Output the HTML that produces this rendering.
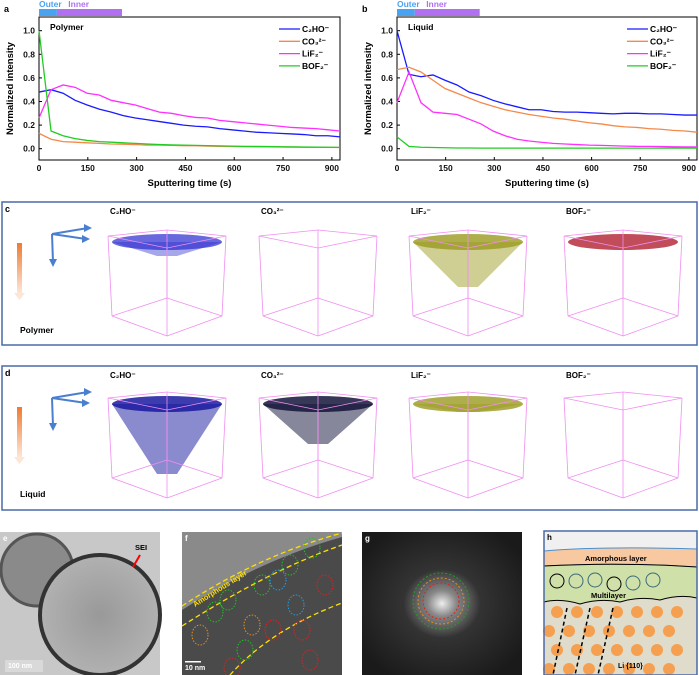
<!DOCTYPE html>
<html><head><meta charset="utf-8"><style>
body{margin:0;background:#fff}
svg{display:block;font-family:"Liberation Sans",Arial,sans-serif}
.t{font-size:8.5px;font-weight:bold;fill:#111}
</style></head><body>
<svg id="fig" width="699" height="675" viewBox="0 0 699 675">
<defs>
<linearGradient id="og" x1="0" y1="0" x2="0" y2="1"><stop offset="0" stop-color="#f07a30"/><stop offset="1" stop-color="#fde6d6"/></linearGradient>
<radialGradient id="fft" cx="0.5" cy="0.5" r="0.6"><stop offset="0" stop-color="#eee"/><stop offset="0.15" stop-color="#888"/><stop offset="0.4" stop-color="#333"/><stop offset="1" stop-color="#1a1a1a"/></radialGradient>
<radialGradient id="tem" cx="0.5" cy="0.5" r="0.7"><stop offset="0" stop-color="#999"/><stop offset="1" stop-color="#bbb"/></radialGradient>
</defs>
<g id="charts"></g>
<g id="panels"></g>
</svg>
<script>
const times=[0,37,74,111,148,185,222,259,296,333,370,407,444,481,518,555,592,629,666,703,740,777,814,851,888,925];
const xTicks=[0,150,300,450,600,750,900];
const yTicks=[0.0,0.2,0.4,0.6,0.8,1.0];
const seriesNames=["C\u2082HO\u207B","CO\u2083\u00B2\u207B","LiF\u2082\u207B","BOF\u2082\u207B"];
const seriesColors=["#1a1aff","#f5894a","#ff30ff","#22cc22"];
const aC2HO=[0.48,0.50,0.47,0.41,0.37,0.335,0.31,0.28,0.26,0.245,0.23,0.215,0.20,0.19,0.185,0.17,0.16,0.15,0.14,0.135,0.13,0.125,0.12,0.11,0.11,0.10];
const aCO3=[0.13,0.08,0.06,0.055,0.05,0.045,0.04,0.038,0.035,0.03,0.03,0.028,0.025,0.025,0.022,0.02,0.02,0.018,0.017,0.016,0.015,0.014,0.013,0.012,0.011,0.01];
const aLiF=[0.26,0.50,0.54,0.52,0.47,0.455,0.41,0.39,0.37,0.34,0.31,0.30,0.28,0.265,0.26,0.24,0.23,0.22,0.21,0.20,0.19,0.18,0.175,0.17,0.16,0.15];
const aBOF=[1.0,0.15,0.11,0.085,0.07,0.06,0.055,0.05,0.045,0.04,0.035,0.032,0.03,0.028,0.026,0.024,0.022,0.02,0.019,0.018,0.016,0.015,0.014,0.013,0.012,0.011];
const bC2HO=[1.0,0.63,0.61,0.625,0.58,0.54,0.48,0.45,0.41,0.38,0.355,0.33,0.33,0.315,0.31,0.31,0.305,0.30,0.295,0.30,0.30,0.295,0.295,0.29,0.285,0.285];
const bCO3=[0.67,0.69,0.65,0.58,0.51,0.47,0.43,0.39,0.36,0.33,0.31,0.29,0.275,0.26,0.25,0.235,0.22,0.21,0.195,0.185,0.18,0.17,0.165,0.155,0.15,0.14];
const bLiF=[0.39,0.65,0.39,0.31,0.30,0.29,0.25,0.21,0.15,0.11,0.08,0.065,0.055,0.045,0.04,0.035,0.03,0.028,0.025,0.022,0.02,0.02,0.018,0.016,0.015,0.015];
const bBOF=[0.10,0.02,0.012,0.01,0.008,0.006,0.006,0.005,0.005,0.005,0.005,0.005,0.005,0.005,0.005,0.005,0.005,0.005,0.005,0.005,0.005,0.005,0.005,0.005,0.005,0.005];

const NS="http://www.w3.org/2000/svg";
function mk(tag,attrs,parent,text){const e=document.createElementNS(NS,tag);for(const k in attrs)e.setAttribute(k,attrs[k]);if(text!==undefined)e.textContent=text;parent.appendChild(e);return e;}
const charts=document.getElementById('charts');

function chart(id,x0,x1,label,sample,data,legX){
  const g=mk('g',{},charts);
  
  
  const y0=17,y1=160;
  const xs=v=>x0+(v/925)*(x1-x0);
  const ys=v=>148.7-v*118;
  // outer/inner bar
  const ob=mk('rect',{x:xs(0),y:9,width:xs(55)-xs(0),height:7,fill:'#4aa3f0'},g);
  
  
  const ib=mk('rect',{x:xs(55),y:9,width:xs(255)-xs(55),height:7,fill:'#b070f0'},g);
  
  
  mk('text',{x:xs(0),y:7,'font-size':'8.5',fill:'#4aa3f0','font-weight':'bold'},g,'Outer');
  mk('text',{x:xs(90),y:7,'font-size':'8.5',fill:'#b070f0','font-weight':'bold'},g,'Inner');
  mk('text',{x:x0-35,y:12,'font-size':'9','font-weight':'bold'},g,label);
  // frame
  const fr=mk('rect',{x:x0,y:y0,width:x1-x0,height:y1-y0,fill:'none',stroke:'#000','stroke-width':1},g);
  
  
  yTicks.forEach(v=>{
    mk('line',{x1:x0,x2:x0+3,y1:ys(v),y2:ys(v),stroke:'#000'},g);
    const t=mk('text',{x:x0-4,y:ys(v)+3,'text-anchor':'end',class:'t'},g,v.toFixed(1));
    
    
  });
  xTicks.forEach(v=>{
    mk('line',{x1:xs(v),x2:xs(v),y1:y1,y2:y1-3,stroke:'#000'},g);
    const t=mk('text',{x:xs(v),y:y1+11,'text-anchor':'middle',class:'t'},g,String(v));
    
    
  });
  const xt=mk('text',{x:(x0+x1)/2,y:186,'text-anchor':'middle','font-size':'9.5','font-weight':'bold'},g,'Sputtering time (s)');
  
  
  const yt=mk('text',{x:0,y:0,transform:`translate(${x0-26},${(y0+y1)/2}) rotate(-90)`,'text-anchor':'middle','font-size':'9.5','font-weight':'bold'},g,'Normalized intensity');
  
  
  mk('text',{x:x0+11,y:30,'font-size':'8.5','font-weight':'bold'},g,sample);
  data.forEach((arr,i)=>{
    const p=mk('polyline',{points:arr.map((v,j)=>xs(times[j])+','+ys(v)).join(' '),fill:'none',stroke:seriesColors[i],'stroke-width':1.3},g);
    
    
    const ly=29+i*12.3;
    const ll=mk('line',{x1:legX,x2:legX+21,y1:ly,y2:ly,stroke:seriesColors[i],'stroke-width':1.3},g);
    
    
    const lt=mk('text',{x:legX+23,y:ly+3,'font-size':'8.5','font-weight':'bold'},g,seriesNames[i]);
    
    
  });
}
chart('chart-polymer',39,340,'a','Polymer',[aC2HO,aCO3,aLiF,aBOF],279);
chart('chart-liquid',397,697,'b','Liquid',[bC2HO,bCO3,bLiF,bBOF],627);

// 3D panels
const panels=document.getElementById('panels');
function cube(g,cx,top){
  const w=59,h=106;
  const pts=[[cx-w,top+6],[cx,top],[cx+w,top+6],[cx,top+18]];
  const b=[[cx-w+4,top+86],[cx,top+68],[cx+w-4,top+86],[cx,top+h]];
  const L=(a,c)=>mk('line',{x1:a[0],y1:a[1],x2:c[0],y2:c[1],stroke:'#f08ef0','stroke-width':0.8},g);
  for(let i=0;i<4;i++){L(pts[i],pts[(i+1)%4]);L(b[i],b[(i+1)%4]);L(pts[i],b[i]);}
}
function blob(g,cx,top,color,depth,density){
  mk('ellipse',{cx:cx,cy:top+10,rx:55,ry:8,fill:color,opacity:density},g);
  if(depth>0)mk('path',{d:`M${cx-55},${top+10} L${cx+55},${top+10} L${cx+10},${top+10+depth} L${cx-10},${top+10+depth} Z`,fill:color,opacity:density*0.6},g);
}
function panel(name,y,h,letter,sample,tops,blobs){
  const g=mk('g',{},panels);
  
  
  mk('rect',{x:2,y:y,width:695,height:h,fill:'#fff',stroke:'#4a6aa8','stroke-width':1.5},g);
  mk('text',{x:5,y:y+10,'font-size':'9','font-weight':'bold'},g,letter);
  mk('path',{d:`M52 ${y+32} L88 ${y+26} M52 ${y+32} L86 ${y+37} M52 ${y+32} L53 ${y+60}`,stroke:'#4a7fd0','stroke-width':2,fill:'none'},g);
  mk('path',{d:`M84 ${y+22} L92 ${y+26} L84 ${y+30} Z M82 ${y+33} L90 ${y+37} L82 ${y+41} Z M49 ${y+57} L53 ${y+65} L57 ${y+57} Z`,fill:'#4a7fd0'},g);
  mk('rect',{x:17,y:y+41,width:5,height:50,fill:'url(#og)'},g);
  mk('path',{d:`M14 ${y+91} L19.5 ${y+98} L25 ${y+91} Z`,fill:'#fde6d6'},g);
  mk('text',{x:20,y:y+131,'font-size':'8.5','font-weight':'bold'},g,sample);
  const cxs=[167,318,468,623];
  cxs.forEach((cx,i)=>{
    const lb=mk('text',{x:cx-57,y:y+12,'font-size':'8','font-weight':'bold'},g,seriesNames[i]);
    
    
    if(blobs[i])blob(g,cx,y+tops,blobs[i][0],blobs[i][1],blobs[i][2]);
    cube(g,cx,y+tops-2);
  });
}
panel('polymer-3d-panel',202,143,'c','Polymer',30,[['#2a2ad0',14,0.7],null,['#9a9a20',45,0.8],['#b02030',0,0.8]]);
panel('liquid-3d-panel',366,144,'d','Liquid',28,[['#1a1aa0',70,0.85],['#14143a',40,0.85],['#9a9a20',8,0.8],null]);

// e/f/g/h
const q=(tag,a)=>mk(tag,a,panels);
let e=q('g',{});


mk('rect',{x:0,y:532,width:160,height:143,fill:'#c8c8c8'},e);
mk('circle',{cx:37,cy:570,r:36,fill:'#8a8a8a',stroke:'#555','stroke-width':3},e);
mk('circle',{cx:100,cy:615,r:60,fill:'url(#tem)',stroke:'#333','stroke-width':4},e);
mk('text',{x:3,y:541,'font-size':'8','font-weight':'bold',fill:'#fff'},e,'e');
mk('text',{x:135,y:550,'font-size':'7.5','font-weight':'bold'},e,'SEI');
mk('path',{d:'M140 555 L133 567',stroke:'#f00','stroke-width':2},e);
mk('rect',{x:5,y:660,width:38,height:12,fill:'#ddd',opacity:0.8},e);
mk('text',{x:8,y:668,'font-size':'7','font-weight':'bold',fill:'#fff'},e,'100 nm');

let f=q('g',{});


mk('rect',{x:182,y:532,width:160,height:143,fill:'#4a4a4a'},f);
mk('path',{d:'M182 532 L342 532 L342 537 Q260 560 182 610 Z',fill:'#8a8a8a'},f);
mk('path',{d:'M182 606 Q260 555 342 533 M182 626 Q270 570 342 545 M230 675 Q270 630 342 603',stroke:'#ffe000','stroke-width':1.3,'stroke-dasharray':'5,3',fill:'none'},f);
mk('text',{x:0,y:0,transform:'translate(195,607) rotate(-32)','font-size':'7.5',fill:'#ffe000','font-weight':'bold'},f,'Amorphous layer');
[[228,600,'#22c022'],[262,585,'#22c022'],[290,565,'#22c022'],[312,548,'#22c022'],[252,625,'#e09020'],[278,580,'#20a0e0'],[296,605,'#20a0e0'],[325,585,'#e02020'],[200,635,'#e09020'],[215,612,'#22c022'],[245,650,'#22c022'],[273,630,'#e02020'],[302,630,'#e02020'],[232,668,'#e02020'],[310,660,'#e02020']].forEach(c=>mk('ellipse',{cx:c[0],cy:c[1],rx:8,ry:10,fill:'none',stroke:c[2],'stroke-dasharray':'1.5,1.5','stroke-width':1},f));
mk('text',{x:185,y:541,'font-size':'8','font-weight':'bold',fill:'#fff'},f,'f');
mk('rect',{x:185,y:661,width:16,height:1.5,fill:'#fff'},f);
mk('text',{x:185,y:670,'font-size':'7','font-weight':'bold',fill:'#fff'},f,'10 nm');

let gg=q('g',{});


mk('rect',{x:362,y:532,width:160,height:143,fill:'url(#fft)'},gg);
mk('circle',{cx:441,cy:601,r:18,fill:'none',stroke:'#e02020','stroke-dasharray':'2,2'},gg);
mk('circle',{cx:441,cy:601,r:23,fill:'none',stroke:'#e09020','stroke-dasharray':'2,2'},gg);
mk('circle',{cx:441,cy:601,r:28,fill:'none',stroke:'#22a022','stroke-dasharray':'2,2'},gg);
mk('text',{x:365,y:541,'font-size':'8','font-weight':'bold',fill:'#fff'},gg,'g');

let h=q('g',{});


mk('rect',{x:544,y:531,width:153,height:144,fill:'#e0dccb'},h);
mk('rect',{x:544,y:531,width:153,height:20,fill:'#f0f0f0'},h);
mk('path',{d:'M544 551 Q600 546 697 549 L697 567 Q620 562 544 566 Z',fill:'#f8c9a0',stroke:'#4a90d0'},h);
mk('path',{d:'M544 566 Q620 562 697 567 L697 598 Q680 594 660 600 Q640 596 620 602 Q600 598 580 604 Q560 598 544 602 Z',fill:'#cfe0a8',stroke:'#000'},h);
mk('text',{x:585,y:561,'font-size':'7.5','font-weight':'bold'},h,'Amorphous layer');
mk('text',{x:591,y:598,'font-size':'7.5','font-weight':'bold'},h,'Multilayer');
[[557,581,'#c0392b'],[576,581,'#20a0d0'],[595,580,'#e040e0'],[614,584,'#c0392b'],[633,583,'#e040e0'],[653,580,'#20a0d0']].forEach(c=>mk('circle',{cx:c[0],cy:c[1],r:7,fill:'#cfe0a8',stroke:c[2]==='#c0392b'?'#000':'#3a6a7a','stroke-width':1},h));
for(let r=0;r<4;r++)for(let c=0;c<7;c++)mk('circle',{cx:553+c*20+(r%2?-4:4),cy:612+r*19,r:6,fill:'#f5a050'},h);
mk('path',{d:'M567 608 L553 675 M590 608 L575 675 M613 608 L598 675',stroke:'#000','stroke-width':1.5,'stroke-dasharray':'4,3'},h);
mk('text',{x:618,y:668,'font-size':'7','font-weight':'bold'},h,'Li {110}');
mk('text',{x:547,y:540,'font-size':'8','font-weight':'bold'},h,'h');
mk('rect',{x:544,y:531,width:153,height:144,fill:'none',stroke:'#4a6aa8','stroke-width':1.5},h);
</script>
</body></html>
